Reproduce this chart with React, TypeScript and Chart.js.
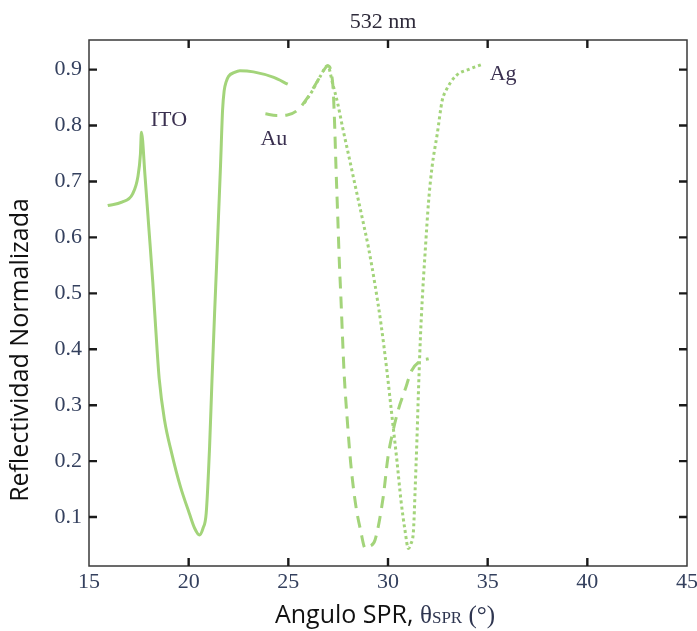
import React, { useEffect, useRef } from "react";
import { Chart, registerables } from "chart.js";

Chart.register(...registerables);

// ---- data ----
const xTickValues = [15, 20, 25, 30, 35, 40, 45];
const yTickValues = [0.1, 0.2, 0.3, 0.4, 0.5, 0.6, 0.7, 0.8, 0.9];
const innerXTicks = [20, 25, 30, 35, 40];

const itoAngle = [15.94, 16.65, 17.19, 17.45, 17.58, 17.63, 17.81, 18.0, 18.2, 18.36, 18.52, 18.79, 19.15, 19.59, 20.03, 20.3, 20.54, 20.72, 20.88, 21.05, 21.17, 21.3, 21.4, 21.5, 21.6, 21.7, 21.78, 21.88, 22.0, 22.3, 22.57, 23.25, 24.27, 24.97];
const itoRefl = [0.657, 0.663, 0.678, 0.708, 0.749, 0.788, 0.71, 0.618, 0.52, 0.43, 0.348, 0.273, 0.214, 0.154, 0.107, 0.08, 0.068, 0.08, 0.107, 0.226, 0.345, 0.464, 0.55, 0.64, 0.73, 0.827, 0.862, 0.878, 0.888, 0.895, 0.898, 0.896, 0.886, 0.874];

const auAngle = [23.85, 24.4, 24.95, 25.44, 25.93, 26.42, 26.9, 26.97, 27.23, 27.31, 27.39, 27.48, 27.56, 27.64, 27.72, 27.8, 27.97, 28.13, 28.37, 28.62, 28.86, 29.1, 29.35, 29.76, 30.0, 30.26, 30.51, 30.85, 31.19, 31.62, 32.04];
const auRefl = [0.821, 0.818, 0.819, 0.827, 0.848, 0.877, 0.905, 0.907, 0.874, 0.815, 0.726, 0.636, 0.555, 0.49, 0.42, 0.356, 0.267, 0.196, 0.124, 0.077, 0.044, 0.048, 0.059, 0.136, 0.208, 0.255, 0.291, 0.327, 0.362, 0.379, 0.383];

const agAngle = [25.8, 26.2, 26.6, 26.97, 27.23, 27.48, 27.72, 28.05, 28.37, 28.7, 29.03, 29.35, 29.65, 29.95, 30.2, 30.45, 30.65, 30.85, 31.02, 31.15, 31.28, 31.36, 31.45, 31.53, 31.62, 31.72, 31.87, 32.04, 32.21, 32.47, 32.72, 32.9, 33.41, 34.09, 34.77];
const agRefl = [0.84, 0.862, 0.888, 0.907, 0.874, 0.839, 0.797, 0.743, 0.69, 0.636, 0.58, 0.515, 0.445, 0.36, 0.28, 0.2, 0.13, 0.077, 0.044, 0.052, 0.077, 0.148, 0.237, 0.327, 0.416, 0.49, 0.577, 0.666, 0.726, 0.785, 0.845, 0.862, 0.889, 0.901, 0.91];

const seriesLabels = ["ITO", "Au", "Ag"];
const labelAnchorX = [18.1, 23.6, 35.1];
const labelAnchorY = [0.809, 0.775, 0.891];

const chartTitle = "532 nm";
const yTitle = "Reflectividad Normalizada";
const xTitleMain = "Angulo SPR, ";
const xTitleSymbol = "θ";
const xTitleSub = "SPR";
const xTitleUnit = " (°)";

const GREEN = "#a3d47a";
const TICK_COLOR = "#34405e";
const SERIF = "'Liberation Serif', 'Times New Roman', serif";

const toPoints = (xs: number[], ys: number[]) => xs.map((x, i) => ({ x, y: ys[i] }));

const decorPlugin = {
  id: "decor",
  afterDraw(chart: any) {
    const { ctx, chartArea, scales } = chart;
    const xs = scales.x;
    const ys = scales.y;
    ctx.save();
    // frame
    ctx.strokeStyle = "#3a3a3a";
    ctx.lineWidth = 1.5;
    ctx.strokeRect(chartArea.left, chartArea.top, chartArea.right - chartArea.left, chartArea.bottom - chartArea.top);
    // inward ticks
    ctx.strokeStyle = "#1a1a1a";
    ctx.lineWidth = 2.4;
    const tl = 8;
    ctx.beginPath();
    innerXTicks.forEach((v) => {
      const px = xs.getPixelForValue(v);
      ctx.moveTo(px, chartArea.bottom);
      ctx.lineTo(px, chartArea.bottom - tl);
      ctx.moveTo(px, chartArea.top);
      ctx.lineTo(px, chartArea.top + tl);
    });
    yTickValues.forEach((v) => {
      const py = ys.getPixelForValue(v);
      ctx.moveTo(chartArea.left, py);
      ctx.lineTo(chartArea.left + tl, py);
      ctx.moveTo(chartArea.right, py);
      ctx.lineTo(chartArea.right - tl, py);
    });
    ctx.stroke();

    // series labels
    ctx.fillStyle = "#3a3050";
    ctx.font = "22px " + SERIF;
    ctx.textAlign = "left";
    ctx.textBaseline = "middle";
    seriesLabels.forEach((t, i) => {
      ctx.fillText(t, xs.getPixelForValue(labelAnchorX[i]), ys.getPixelForValue(labelAnchorY[i]));
    });

    // title
    ctx.fillStyle = "#2e2a3a";
    ctx.font = "22px " + SERIF;
    ctx.textAlign = "center";
    ctx.textBaseline = "middle";
    ctx.fillText(chartTitle, (chartArea.left + chartArea.right) / 2 - 5, 22);

    // y title
    ctx.save();
    ctx.translate(21, 350);
    ctx.rotate(-Math.PI / 2);
    ctx.fillStyle = "#111";
    ctx.font = "25px 'Open Sans', sans-serif";
    ctx.textAlign = "center";
    ctx.textBaseline = "middle";
    ctx.fillText(yTitle, 0, 0);
    ctx.restore();

    // x title (mixed fonts)
    const mainFont = "25px 'Open Sans', sans-serif";
    const symFont = "25px " + SERIF;
    const subFont = "17px " + SERIF;
    ctx.textAlign = "left";
    ctx.textBaseline = "alphabetic";
    ctx.font = mainFont;
    const w1 = ctx.measureText(xTitleMain).width;
    ctx.font = symFont;
    const w2 = ctx.measureText(xTitleSymbol).width;
    ctx.font = subFont;
    const w3 = ctx.measureText(xTitleSub).width;
    ctx.font = symFont;
    const w4 = ctx.measureText(xTitleUnit).width;
    const total = w1 + w2 + w3 + w4;
    let cx = 385 - total / 2;
    const base = 623;
    ctx.fillStyle = "#111";
    ctx.font = mainFont;
    ctx.fillText(xTitleMain, cx, base);
    cx += w1;
    ctx.fillStyle = "#2e3550";
    ctx.font = symFont;
    ctx.fillText(xTitleSymbol, cx, base);
    cx += w2;
    ctx.font = subFont;
    ctx.fillText(xTitleSub, cx, base);
    cx += w3;
    ctx.font = symFont;
    ctx.fillText(xTitleUnit, cx, base);
    ctx.restore();
  },
};

export default function App() {
  const ref = useRef<HTMLCanvasElement | null>(null);
  useEffect(() => {
    if (!ref.current) return;
    const chart = new Chart(ref.current, {
      type: "line",
      data: {
        datasets: [
          {
            label: "ITO",
            data: toPoints(itoAngle, itoRefl),
            borderColor: GREEN,
            borderWidth: 3,
            pointRadius: 0,
            cubicInterpolationMode: "monotone",
            fill: false,
          },
          {
            label: "Au",
            data: toPoints(auAngle, auRefl),
            borderColor: GREEN,
            borderWidth: 3,
            borderDash: [12, 8],
            pointRadius: 0,
            cubicInterpolationMode: "monotone",
            fill: false,
          },
          {
            label: "Ag",
            data: toPoints(agAngle, agRefl),
            borderColor: GREEN,
            borderWidth: 3,
            borderDash: [3, 3],
            pointRadius: 0,
            cubicInterpolationMode: "monotone",
            fill: false,
          },
        ],
      },
      options: {
        responsive: false,
        animation: false,
        layout: { padding: { left: 0, top: 40, right: 10, bottom: 0 } },
        plugins: { legend: { display: false }, tooltip: { enabled: false }, title: { display: false } },
        scales: {
          x: {
            type: "linear",
            min: 15,
            max: 45,
            grid: { display: false, drawTicks: false },
            border: { display: false },
            afterBuildTicks: (s: any) => {
              s.ticks = xTickValues.map((v) => ({ value: v }));
            },
            afterFit: (s: any) => {
              s.height = 65;
              s.paddingLeft = 0;
              s.paddingRight = 0;
            },
            ticks: {
              padding: 3,
              color: TICK_COLOR,
              font: { family: SERIF, size: 22 },
              maxRotation: 0,
              autoSkip: false,
            },
          },
          y: {
            type: "linear",
            min: 0.0125,
            max: 0.953,
            grid: { display: false, drawTicks: false },
            border: { display: false },
            afterBuildTicks: (s: any) => {
              s.ticks = yTickValues.map((v) => ({ value: v }));
            },
            afterFit: (s: any) => {
              s.width = 89;
              s.paddingTop = 0;
              s.paddingBottom = 0;
            },
            ticks: {
              padding: 7,
              color: TICK_COLOR,
              font: { family: SERIF, size: 22 },
              callback: (v: any) => Number(v).toFixed(1),
              autoSkip: false,
            },
          },
        },
      },
      plugins: [decorPlugin],
    } as any);
    return () => chart.destroy();
  }, []);
  return (
    <div style={{ position: "absolute", left: 0, top: 0, width: 697, height: 631, background: "#fff" }}>
      <canvas ref={ref} width={697} height={631} style={{ display: "block", width: 697, height: 631 }} />
    </div>
  );
}
